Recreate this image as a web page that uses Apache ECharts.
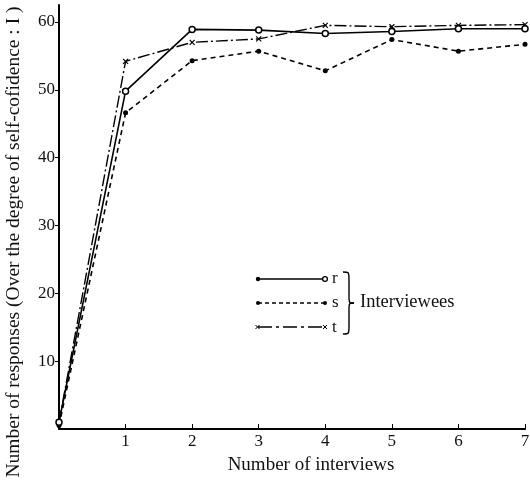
<!DOCTYPE html>
<html><head><meta charset="utf-8">
<script src="https://cdn.jsdelivr.net/npm/echarts@6/dist/echarts.min.js"></script>
<style>html,body{margin:0;padding:0;background:#fff}#c{width:530px;height:483px}</style>
</head><body><div id="c"></div>
<script>
const interviews = [0, 1, 2, 3, 4, 5, 6, 7];
const rValues = [1, 49.8, 58.9, 58.8, 58.3, 58.6, 59.0, 59.0];
const sValues = [0.5, 46.6, 54.3, 55.7, 52.8, 57.4, 55.7, 56.7];
const tValues = [1, 54.2, 57.0, 57.5, 59.5, 59.3, 59.5, 59.6];
const xTickLabels = [1, 2, 3, 4, 5, 6, 7];
const yTickLabels = [10, 20, 30, 40, 50, 60];
const seriesNames = ['r', 's', 't'];
const xTitle = 'Number of interviews';
const yTitle = 'Number of responses (Over the degree of self-cofidence : I )';
const legendTitle = 'Interviewees';

const F = '"Liberation Serif", "DejaVu Serif", serif';
const xPath = 'path://M0,0L10,10M10,0L0,10';
const chart = echarts.init(document.getElementById('c'));
const pts = a => a.map((v, i) => [interviews[i], v]);
const bz = (x1, y1, cx, cy, x2, y2) => ({type: 'bezierCurve',
  shape: {x1: x1, y1: y1, cpx1: cx, cpy1: cy, cpx2: cx, cpy2: cy, x2: x2, y2: y2},
  style: {stroke: '#000', lineWidth: 1.4, fill: null}});
const ln = (x1, y1, x2, y2, w, dash) => ({type: 'line', shape: {x1: x1, y1: y1, x2: x2, y2: y2},
  style: {stroke: '#000', lineWidth: w, lineDash: dash || null}});
const txt = (x, y, s, size) => ({type: 'text', x: x, y: y,
  style: {text: s, fontFamily: F, fontSize: size, fill: '#111', verticalAlign: 'middle'}});

chart.setOption({
  animation: false,
  grid: {left: 59, right: 5, top: 5, bottom: 54, outerBoundsMode: 'none', containLabel: false},
  xAxis: {
    type: 'value', min: 0, max: 7, interval: 1,
    axisLine: {lineStyle: {color: '#000', width: 2}},
    axisTick: {inside: true, length: 5, lineStyle: {color: '#000'}, customValues: xTickLabels},
    axisLabel: {fontFamily: F, fontSize: 17, color: '#111', margin: 4, customValues: xTickLabels},
    splitLine: {show: false}
  },
  yAxis: {
    type: 'value', min: 0, max: 62.5,
    axisLine: {lineStyle: {color: '#000', width: 2}},
    axisTick: {length: 4, lineStyle: {color: '#000'}, customValues: yTickLabels},
    axisLabel: {fontFamily: F, fontSize: 17, color: '#111', margin: 4, customValues: yTickLabels},
    splitLine: {show: false}
  },
  series: [
    {name: seriesNames[0], type: 'line', data: pts(rValues), symbol: 'circle', symbolSize: 6,
     itemStyle: {color: '#fff', borderColor: '#000', borderWidth: 1.5},
     lineStyle: {color: '#000', width: 1.6, type: 'solid'}, z: 3},
    {name: seriesNames[1], type: 'line', data: pts(sValues), symbol: 'circle', symbolSize: 5,
     itemStyle: {color: '#000'},
     lineStyle: {color: '#000', width: 1.6, type: [5, 4]}, z: 2},
    {name: seriesNames[2], type: 'line', data: pts(tValues), symbol: xPath, symbolSize: 5,
     itemStyle: {color: '#000', borderColor: '#000', borderWidth: 1.2},
     lineStyle: {color: '#000', width: 1.4, type: [12, 3, 2, 3]}, z: 2}
  ],
  graphic: [
    {type: 'text', x: 14, y: 242, rotation: Math.PI / 2,
     style: {text: yTitle, fontFamily: F, fontSize: 19.5, fill: '#111', align: 'center', verticalAlign: 'middle'}},
    {type: 'text', x: 311, y: 465,
     style: {text: xTitle, fontFamily: F, fontSize: 19, fill: '#111', align: 'center', verticalAlign: 'middle'}},

    ln(258, 279, 325, 279, 1.5),
    {type: 'circle', shape: {cx: 258, cy: 279, r: 2.2}, style: {fill: '#000'}},
    {type: 'circle', shape: {cx: 325, cy: 279, r: 2.4}, style: {fill: '#fff', stroke: '#000', lineWidth: 1.3}},
    txt(332, 279, seriesNames[0], 17),

    ln(258, 303, 325, 303, 1.3, [4, 3]),
    {type: 'circle', shape: {cx: 258, cy: 303, r: 2}, style: {fill: '#000'}},
    {type: 'circle', shape: {cx: 325, cy: 303, r: 2}, style: {fill: '#000'}},
    txt(332, 303, seriesNames[1], 17),

    ln(258, 327, 325, 327, 1.3, [14, 4, 3, 4]),
    ln(255.5, 325, 259.5, 329, 1), ln(255.5, 329, 259.5, 325, 1),
    ln(323, 325, 327, 329, 1), ln(323, 329, 327, 325, 1),
    txt(332, 328, seriesNames[2], 17),

    bz(343, 272, 349, 272, 349, 280), ln(349, 280, 349, 296, 1.4), bz(349, 296, 349, 303, 354, 303),
    bz(354, 303, 349, 303, 349, 310), ln(349, 310, 349, 326, 1.4), bz(349, 326, 349, 334, 343, 334),
    txt(360, 302, legendTitle, 18.5)
  ]
});
</script></body></html>
